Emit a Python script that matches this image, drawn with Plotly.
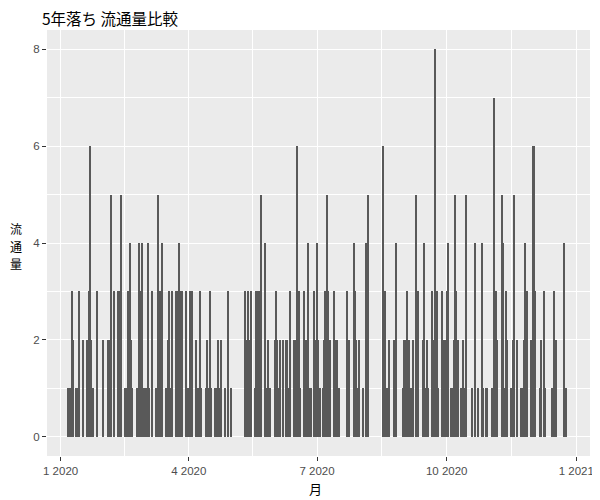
import pandas as pd
import plotly.graph_objects as go

YEAR = 2020

# daily counts per month (0 = no bar)
jan = [0,0,0,0,0,1,0,1,3,2, 0,1,1,3,0,0,2,0,0,2, 3,6,2,1,0,0,3,0,0,0, 2]
feb = [0,0,0,2,2,5,0,3,0,0, 3,3,5,0,0,1,1,3,4,2, 1,0,0,1,1,4,3,4,1]
mar = [1,1,4,1,0,3,0,0,1,5, 3,3,4,0,0,1,2,3,1,3, 0,0,3,3,4,3,3,0,0,3,1]
apr = [1,3,3,0,0,2,1,1,3,1, 0,0,1,2,1,3,1,0,0,1, 1,2,1,2,0,0,1,0,3,0]
may = [1,0,0,0,0,0,0,0,0,0, 3,2,3,2,3,0,0,1,3,3, 3,5,0,0,4,1,2,1,1,0,0]
jun = [2,3,2,1,2,0,2,0,2,2, 1,3,0,0,2,2,6,3,1,0, 0,3,2,2,4,1,1,0,3,2]
jul = [4,2,1,0,1,2,3,5,3,2, 0,0,3,2,2,1,1,0,0,0, 0,3,1,2,0,0,4,3,2,1,2]
aug = [0,0,1,0,4,5,0,0,0,0, 0,0,0,0,0,0,6,3,1,1, 2,0,0,0,2,4,0,0,0,0,1]
sep = [2,2,3,2,0,1,2,0,5,2, 3,0,0,2,4,1,2,1,0,0, 3,2,8,3,1,0,0,3,2,2]
oct = [3,4,0,1,1,2,5,3,2,0, 1,1,2,1,5,0,0,0,1,0, 4,0,1,0,0,4,1,0,1,1,0]
nov = [0,1,1,7,3,2,0,0,5,4, 1,3,2,0,0,1,2,5,0,2, 0,0,1,1,2,4,3,0,0,2]
dec = [6,6,3,0,0,1,2,0,3,1, 0,0,0,0,1,3,0,2,0,0, 0,0,4,0,1,0,0,0,0,0,0]

tick_dates = ["2020-01-01", "2020-04-01", "2020-07-01", "2020-10-01", "2021-01-01"]
tick_labels = ["1 2020", "4 2020", "7 2020", "10 2020", "1 2021"]
minor_dates = ["2020-02-15 12:00", "2020-05-16 12:00", "2020-08-16", "2020-11-16"]

months = [jan, feb, mar, apr, may, jun, jul, aug, sep, oct, nov, dec]
dates, counts = [], []
for m, vals in enumerate(months, start=1):
    for d, v in enumerate(vals, start=1):
        if v > 0:
            dates.append(f"{YEAR}-{m:02d}-{d:02d}")
            counts.append(v)

DAY_MS = 86400000
fig = go.Figure(go.Bar(x=dates, y=counts, width=0.9 * DAY_MS,
                       marker=dict(color="#595959", line=dict(width=0))))

base = pd.Timestamp("2020-01-01")
x0 = base - pd.Timedelta(days=9.65)
x1 = base + pd.Timedelta(days=375.7)

# the page body has an 8px margin, so the figure is 592x492
W, H = 592, 492
ML, MR, MT, MB = 39, 10, 22, 44
PW, PH = W - ML - MR, H - MT - MB
axis_font = dict(family="Liberation Sans, Arial, sans-serif", size=11.5, color="#4D4D4D")
jp = "Noto Sans CJK JP"

ytitle_chars = ["流", "通", "量"]
ytitle_annots = [
    dict(text=ch, xref="paper", yref="paper", x=(1 - ML) / PW,
         y=(H - MB - (220 + 18 * k)) / PH,
         showarrow=False, xanchor="left", yanchor="middle", borderpad=0,
         font=dict(family=jp, size=12, color="black"))
    for k, ch in enumerate(ytitle_chars)
]

fig.update_layout(
    width=W, height=H,
    margin=dict(l=ML, r=MR, t=MT, b=MB, autoexpand=False),
    paper_bgcolor="white", plot_bgcolor="#EBEBEB",
    font=dict(family="Liberation Sans, Noto Sans CJK JP", color="#4D4D4D", size=12),
    showlegend=False, bargap=0,
    title=dict(text="5年落ち 流通量比較", xref="container", x=34/W, xanchor="left",
               yref="container", y=1-12/H, yanchor="middle",
               font=dict(family=jp, size=15.5, color="black")),
    xaxis=dict(range=[x0, x1], tickmode="array", tickvals=tick_dates, ticktext=tick_labels,
               automargin=False,
               showgrid=True, gridcolor="white", gridwidth=1.1,
               minor=dict(tickmode="array", tickvals=minor_dates, showgrid=True,
                          gridcolor="white", gridwidth=0.55, ticks=""),
               ticks="outside", ticklen=4, tickcolor="#333333", tickwidth=1,
               zeroline=False, showline=False, tickfont=axis_font),
    yaxis=dict(range=[-0.4, 8.4], tickmode="array", tickvals=[0, 2, 4, 6, 8],
               automargin=False,
               showgrid=True, gridcolor="white", gridwidth=1.1,
               minor=dict(tickmode="array", tickvals=[1, 3, 5, 7], showgrid=True,
                          gridcolor="white", gridwidth=0.55, ticks=""),
               ticks="outside", ticklen=4, tickcolor="#333333", tickwidth=1,
               zeroline=False, showline=False, tickfont=axis_font),
    annotations=[
        dict(text="月", xref="paper", yref="paper", x=0.495, y=-0.077,
             showarrow=False, xanchor="center", yanchor="middle",
             font=dict(family=jp, size=13, color="black")),
    ] + ytitle_annots,
)

fig.write_html("out.html")
